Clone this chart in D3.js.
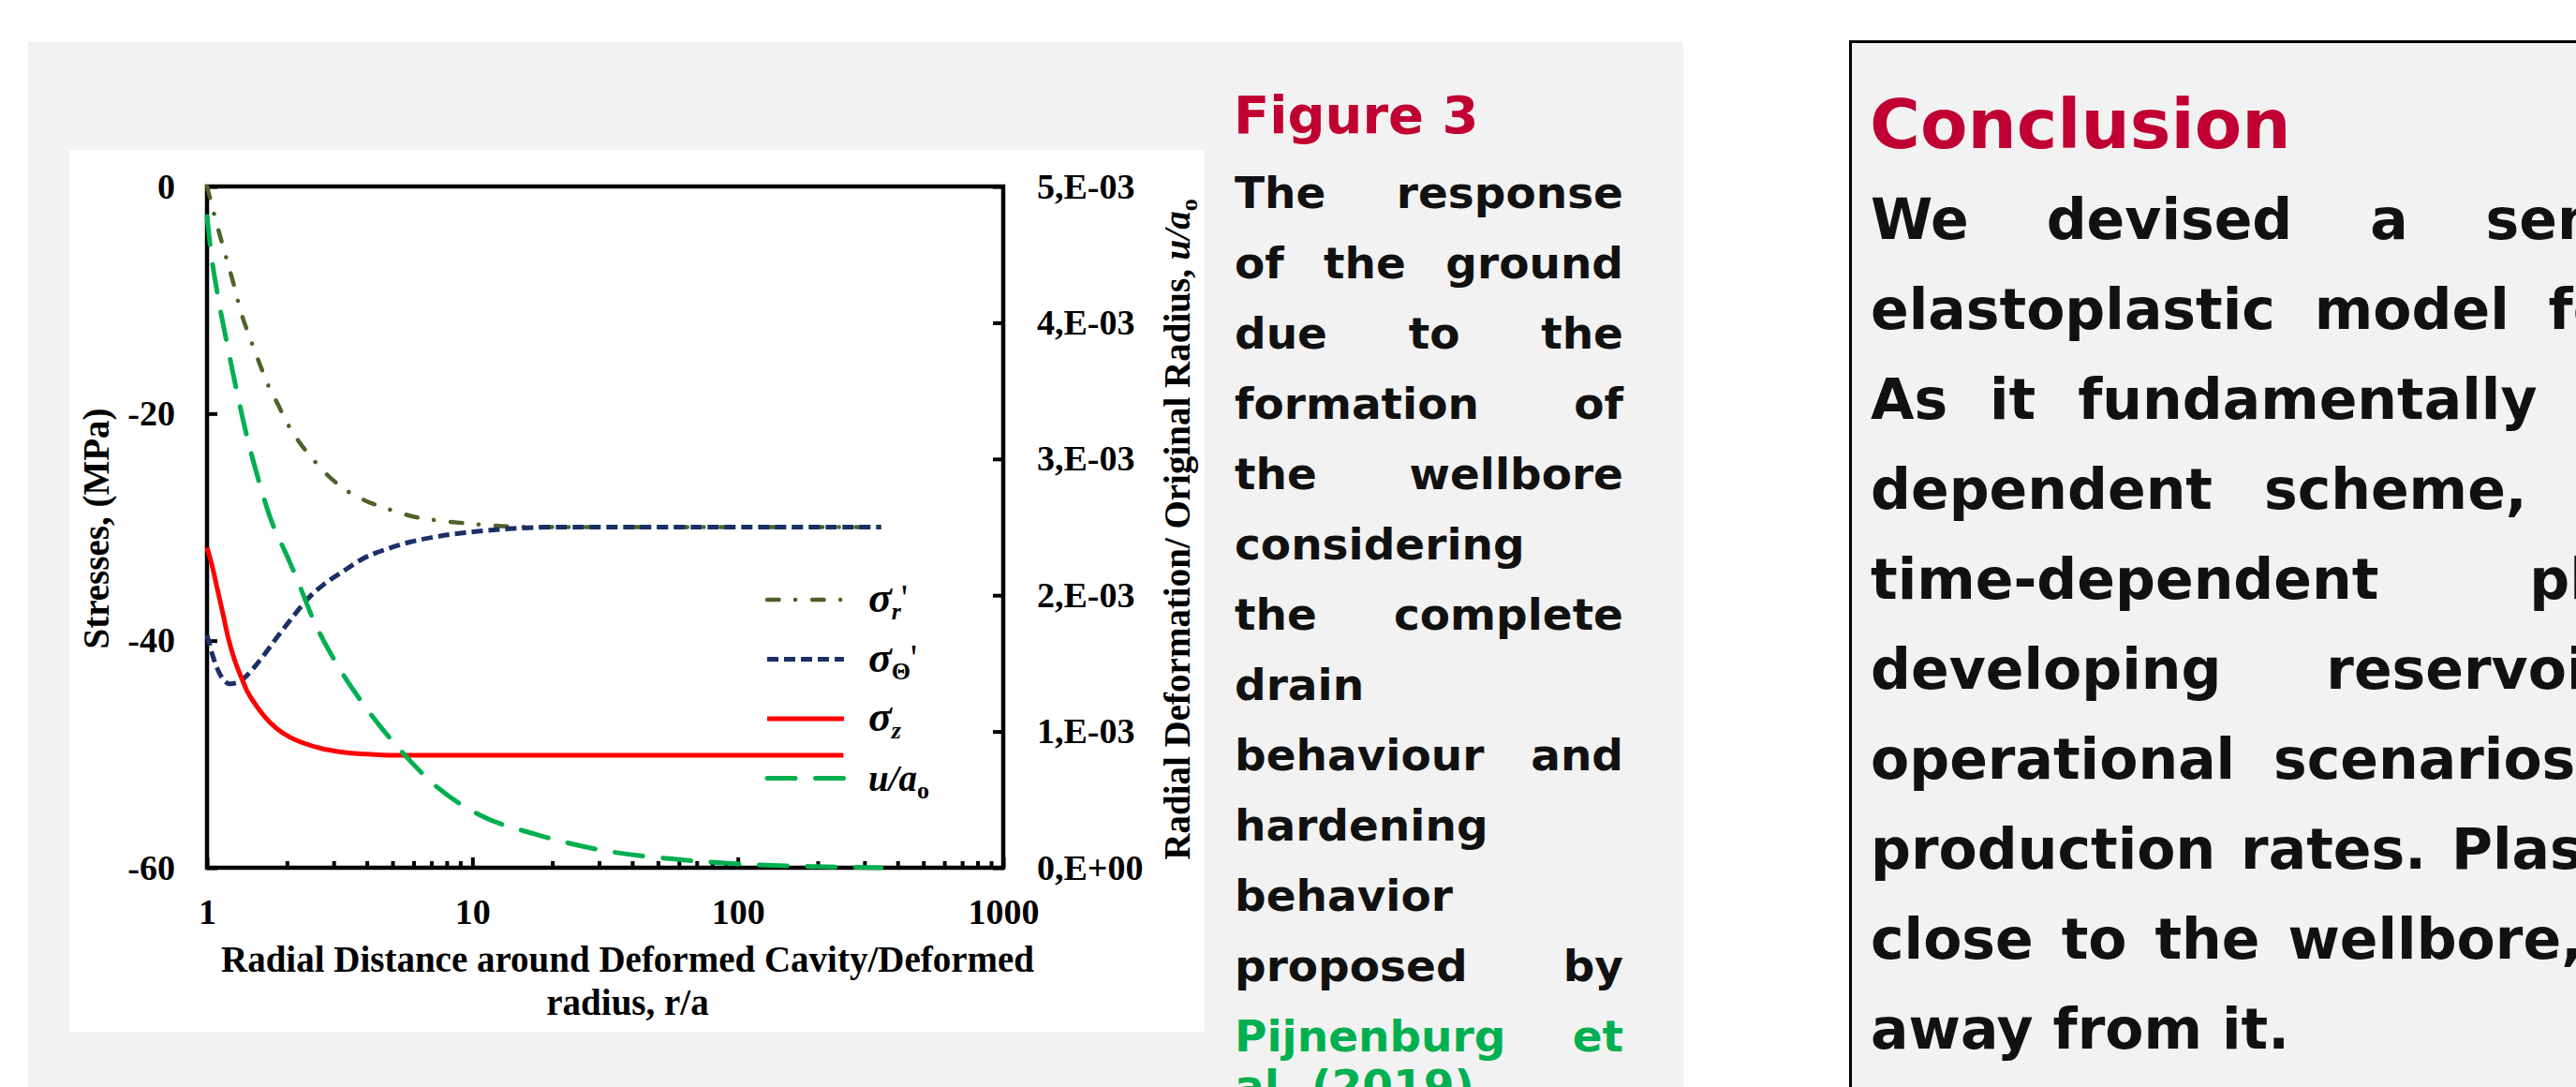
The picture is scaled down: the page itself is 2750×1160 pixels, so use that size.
<!DOCTYPE html>
<html lang="en">
<head>
    <meta charset="UTF-8">
    <title>Figure 3 - Ground response around the wellbore</title>
    <script src="https://d3js.org/d3.v7.min.js"></script>
    <style>
        body {
            margin: 0;
            width: 2750px;
            height: 1160px;
            overflow: hidden;
            background: #fff;
            position: relative;
        }

        #figure-panel {
            position: absolute;
            left: 30px;
            top: 44px;
            width: 1767px;
            height: 1200px;
            background: #f2f2f2;
        }

        #chart {
            position: absolute;
            left: 74px;
            top: 160px;
            background: #fff;
        }

        .heading {
            position: absolute;
            font-family: "DejaVu Sans", Verdana, sans-serif;
            font-weight: bold;
            color: #c00032;
            white-space: nowrap;
        }

        .caption {
            position: absolute;
            left: 1318px;
            top: 168px;
            width: 415px;
            font: bold 47px/75px "DejaVu Sans", Verdana, sans-serif;
            color: #111;
        }

        .caption .line {
            text-align: justify;
            text-align-last: justify;
        }

        .caption .cite {
            color: #00b050;
        }

        /* the reference sets the tail of the citation a little tighter, and unjustified */
        .caption .tail {
            margin-top: -22px;
            text-align-last: left;
        }

        #conclusion-box {
            position: absolute;
            left: 1974px;
            top: 43px;
            width: 1200px;
            height: 1300px;
            border: 3px solid #000;
            background: #f2f2f2;
        }

        .conclusion {
            position: absolute;
            left: 1997px;
            top: 186px;
            font: bold 60px/96px "DejaVu Sans", Verdana, sans-serif;
            color: #111;
            white-space: nowrap;
        }

        .axis text, .chart-text {
            font-family: "Liberation Serif", "Times New Roman", serif;
            font-weight: bold;
            fill: #000;
        }

        .axis line {
            stroke: #000;
            stroke-width: 4px;
        }
    </style>
</head>
<body>
    <div id="figure-panel"></div>
    <div id="chart"></div>
    <div id="conclusion-box"></div>
    <script>
        // x positions (r/a) and values, one pair per curve
        const sigmaRX = [1, 1.06, 1.14, 1.26, 1.34, 1.46, 1.59, 1.67, 1.86, 1.97, 2.24, 2.44, 2.93, 3.27, 4.17, 4.8, 6.34, 7.33, 9.79, 14, 20, 50, 100, 350];
        const sigmaRY = [0, -2.3, -5.0, -8.6, -11.0, -13.5, -15.8, -17.1, -19.3, -20.5, -22.6, -23.7, -25.7, -26.6, -27.9, -28.4, -29.2, -29.4, -29.7, -29.95, -30, -30, -30, -30];

        const sigmaTX = [1, 1.05, 1.1, 1.15, 1.22, 1.3, 1.38, 1.5, 1.66, 1.85, 2.09, 2.4, 2.77, 3.3, 3.85, 4.8, 5.85, 7.5, 9.33, 12, 14.8, 20, 50, 100, 347];
        const sigmaTY = [-39.5, -41.3, -42.6, -43.4, -43.8, -43.7, -43.3, -42.4, -41.1, -39.6, -38.0, -36.3, -35.0, -33.8, -32.8, -31.9, -31.3, -30.8, -30.5, -30.25, -30.1, -30.0, -30, -30, -30];

        const sigmaZX = [1, 1.05, 1.09, 1.15, 1.2, 1.27, 1.35, 1.42, 1.51, 1.65, 1.82, 2.05, 2.3, 2.7, 3.19, 4, 5.08, 10, 50, 250];
        const sigmaZY = [-31.8, -33.6, -35.3, -37.7, -39.7, -41.7, -43.3, -44.5, -45.5, -46.7, -47.7, -48.5, -49.0, -49.5, -49.8, -50.0, -50.1, -50.1, -50.1, -50.1];

        const uX = [1, 1.033, 1.1, 1.183, 1.284, 1.404, 1.551, 1.752, 1.979, 2.15, 2.53, 3.05, 3.85, 5.33, 7.38, 10.7, 17.1, 29.9, 60, 121, 200, 347];
        const uY = [4.78e-3, 4.53e-3, 4.19e-3, 3.87e-3, 3.53e-3, 3.19e-3, 2.87e-3, 2.54e-3, 2.31e-3, 2.15e-3, 1.81e-3, 1.51e-3, 1.21e-3, 0.867e-3, 0.59e-3, 0.385e-3, 0.248e-3, 0.133e-3, 0.06e-3, 0.02e-3, 0.008e-3, 0];

        // axis ticks
        const xTicks = [1, 10, 100, 1000];
        const stressTicks = [0, -20, -40, -60];
        const dispTicks = [0, 0.001, 0.002, 0.003, 0.004, 0.005];

        // texts
        const xTitleLines = ["Radial Distance around Deformed Cavity/Deformed", "radius, r/a"];
        const captionLines = ["The response", "of the ground", "due to the", "formation of", "the wellbore",
            "considering", "the complete", "drain", "behaviour and", "hardening", "behavior",
            "proposed by", "Pijnenburg et", "al. (2019)."];
        const conclusionLines = ["We devised a semi-analytical", "elastoplastic model for wellbores.",
            "As it fundamentally considers a time-", "dependent scheme, it can model",
            "time-dependent plastic", "developing reservoir under", "operational scenarios of varying",
            "production rates. Plastic strains develop", "close to the wellbore, and decrease", "away from it."];
        const conclusionSpacing = [62, 21, 24, 34, 140, 91, 20, 6, 9, 0];

        // chart layout
        const margin = { top: 39, right: 215, bottom: 171, left: 147 },
              width = 850,
              height = 727;

        const svg = d3.select("#chart")
            .append("svg")
            .attr("width", width + margin.left + margin.right)
            .attr("height", height + margin.top + margin.bottom);

        const g = svg.append("g")
            .attr("transform", `translate(${margin.left},${margin.top})`);

        const x = d3.scaleLog().domain([1, 1000]).range([0, width]);
        const yStress = d3.scaleLinear().domain([-60, 0]).range([height, 0]);
        const yDisp = d3.scaleLinear().domain([0, 0.005]).range([height, 0]);

        const styleAxis = sel => {
            sel.attr("font-size", 38)
               .attr("font-family", null);
            sel.select(".domain").remove();
        };

        // bottom axis, major + minor ticks
        g.append("g")
            .attr("class", "axis")
            .attr("transform", `translate(0,${height})`)
            .call(d3.axisBottom(x)
                .tickValues(x.ticks().filter(t => !xTicks.includes(t)))
                .tickFormat("")
                .tickSizeInner(-7)
                .tickSizeOuter(0))
            .call(styleAxis);

        g.append("g")
            .attr("class", "axis")
            .attr("transform", `translate(0,${height})`)
            .call(d3.axisBottom(x)
                .tickValues(xTicks)
                .tickFormat(d => String(d))
                .tickSizeInner(-11)
                .tickSizeOuter(0)
                .tickPadding(33))
            .call(styleAxis);

        g.append("g")
            .attr("class", "axis")
            .call(d3.axisLeft(yStress)
                .tickValues(stressTicks)
                .tickFormat(d => String(d))
                .tickSizeInner(-11)
                .tickSizeOuter(0)
                .tickPadding(34))
            .call(styleAxis);

        g.append("g")
            .attr("class", "axis")
            .attr("transform", `translate(${width},0)`)
            .call(d3.axisRight(yDisp)
                .tickValues(dispTicks)
                .tickFormat(d => d === 0 ? "0,E+00" : `${Math.round(d * 1000)},E-03`)
                .tickSizeInner(-11)
                .tickSizeOuter(0)
                .tickPadding(36))
            .call(styleAxis);

        // plot frame
        g.append("rect")
            .attr("width", width)
            .attr("height", height)
            .attr("fill", "none")
            .attr("stroke", "#000")
            .attr("stroke-width", 4.5);

        // curves (secondary axis series drawn last, like the spreadsheet does)
        const series = [
            { xs: sigmaRX, ys: sigmaRY, y: yStress, color: "#4f6228", w: 4.5, dash: "12.5,17.5,0.1,18", cap: "round", label: ["σ", "r", true] },
            { xs: sigmaTX, ys: sigmaTY, y: yStress, color: "#1a2f66", w: 5, dash: "12,6", cap: "butt", label: ["σ", "Θ", false] },
            { xs: sigmaZX, ys: sigmaZY, y: yStress, color: "#ff0000", w: 5, dash: null, cap: "butt", label: ["σ", "z", true] },
            { xs: uX, ys: uY, y: yDisp, color: "#00b050", w: 5, dash: "30,21.5", cap: "round", label: ["u/a", "o", false] }
        ];

        series.forEach(s => {
            const line = d3.line()
                .x(i => x(s.xs[i]))
                .y(i => s.y(s.ys[i]))
                .curve(d3.curveMonotoneX);
            g.append("path")
                .attr("d", line(d3.range(s.xs.length)))
                .attr("fill", "none")
                .attr("stroke", s.color)
                .attr("stroke-width", s.w)
                .attr("stroke-dasharray", s.dash)
                .attr("stroke-linecap", s.cap);
        });

        // legend
        const legend = g.append("g").attr("transform", "translate(598,441)");
        series.forEach((s, i) => {
            const row = legend.append("g").attr("transform", `translate(0,${i * 63.5})`);
            row.append("line")
                .attr("x1", 0).attr("x2", 82)
                .attr("stroke", s.color)
                .attr("stroke-width", s.w)
                .attr("stroke-dasharray", s.dash)
                .attr("stroke-linecap", s.cap);
            const t = row.append("text")
                .attr("class", "chart-text")
                .attr("x", 108)
                .attr("y", 13)
                .attr("font-size", 39);
            t.append("tspan")
                .attr("font-style", "italic")
                .attr("font-size", s.label[0] === "σ" ? 46 : 39)
                .text(s.label[0]);
            t.append("tspan")
                .attr("font-size", 26)
                .attr("dy", 8)
                .attr("font-style", s.label[2] ? "italic" : "normal")
                .text(s.label[1]);
            if (i < 2) {
                t.append("tspan").attr("dy", -10).attr("font-weight", "normal").text("'");
            }
        });

        // axis titles
        svg.append("text")
            .attr("class", "chart-text")
            .attr("font-size", 39)
            .attr("text-anchor", "middle")
            .attr("transform", "translate(42,404) rotate(-90)")
            .text("Stresses, (MPa)");

        const rightTitle = svg.append("text")
            .attr("class", "chart-text")
            .attr("font-size", 39)
            .attr("text-anchor", "middle")
            .attr("transform", "translate(1196,405) rotate(-90)");
        rightTitle.append("tspan").text("Radial Deformation/ Original Radius, ");
        rightTitle.append("tspan").attr("font-style", "italic").text("u/a");
        rightTitle.append("tspan").attr("font-size", 26).attr("dy", 8).text("o");

        svg.selectAll(".x-title")
            .data(xTitleLines)
            .join("text")
            .attr("class", "chart-text x-title")
            .attr("font-size", 39)
            .attr("text-anchor", "middle")
            .attr("x", 596)
            .attr("y", (d, i) => 877 + i * 46)
            .text(d => d);

        // caption next to the chart
        d3.select("body").append("div")
            .attr("class", "heading")
            .style("left", "1317px")
            .style("top", "95px")
            .style("font-size", "56px")
            .style("line-height", "56px")
            .text("Figure 3");

        d3.select("body").append("div")
            .attr("class", "caption")
            .selectAll("div")
            .data(captionLines)
            .join("div")
            .attr("class", (d, i) => i >= 12 ? (i === 13 ? "line cite tail" : "line cite") : "line")
            .text(d => d);

        // conclusion panel
        d3.select("body").append("div")
            .attr("class", "heading")
            .style("left", "1996px")
            .style("top", "96px")
            .style("font-size", "73.5px")
            .style("line-height", "73.5px")
            .text("Conclusion");

        d3.select("body").append("div")
            .attr("class", "conclusion")
            .selectAll("div")
            .data(conclusionLines)
            .join("div")
            .style("word-spacing", (d, i) => conclusionSpacing[i] + "px")
            .text(d => d);
    </script>
</body>
</html>
